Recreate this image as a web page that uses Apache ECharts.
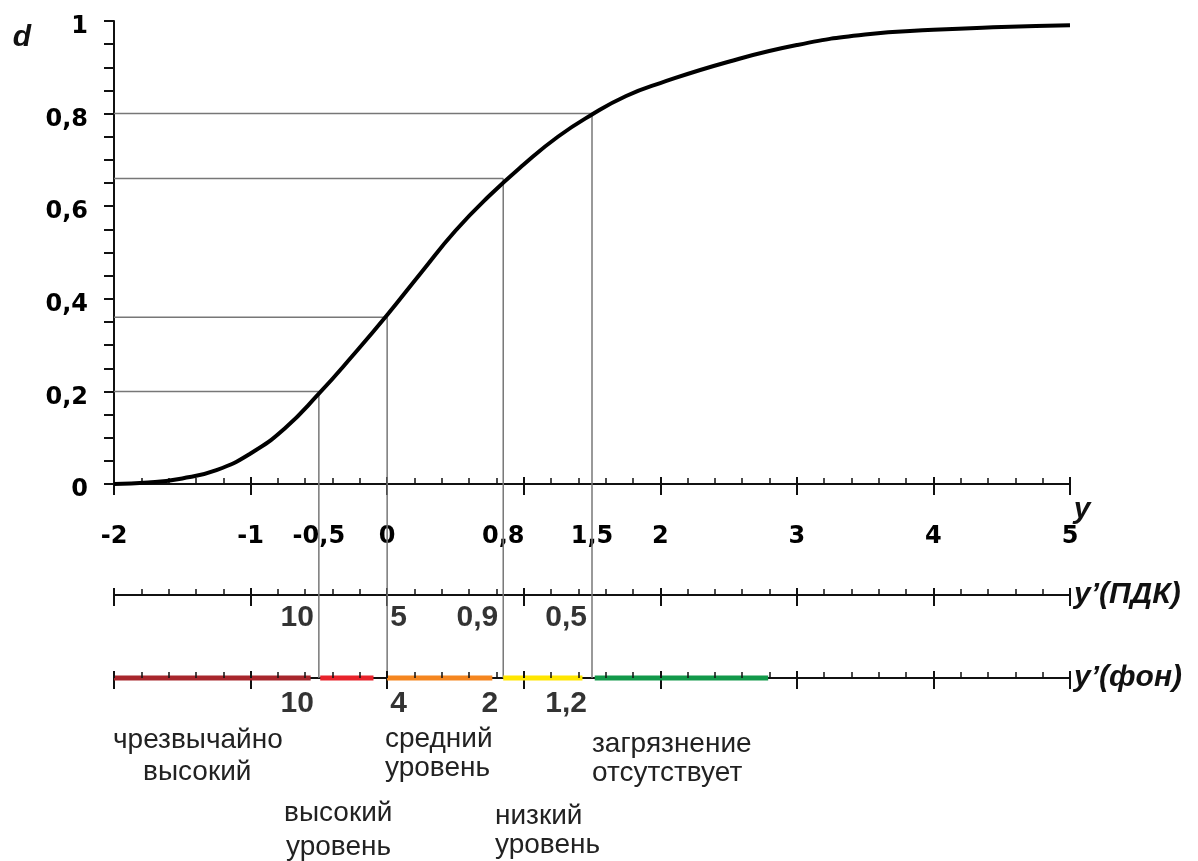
<!DOCTYPE html>
<html>
<head>
<meta charset="utf-8">
<script src="https://cdn.jsdelivr.net/npm/echarts@6/dist/echarts.min.js"></script>
<style>
html,body{margin:0;padding:0;background:#fff;}
#chart{width:1198px;height:861px;}
</style>
</head>
<body>
<div id="chart"></div>
<script>
// ---- data ----
const curveY = [-2, -1.75, -1.5, -1.25, -1, -0.75, -0.5, -0.25, 0, 0.25, 0.5, 0.75, 1, 1.25, 1.5, 1.75, 2, 2.5, 3, 3.5, 4, 4.5, 5];
const curveD = [0, 0.003, 0.012, 0.03, 0.066, 0.12, 0.195, 0.278, 0.365, 0.457, 0.547, 0.623, 0.69, 0.75, 0.798, 0.838, 0.866, 0.912, 0.948, 0.971, 0.981, 0.987, 0.991];

const refY = [-0.5, 0, 0.85, 1.5];
const refD = [0.2, 0.36, 0.66, 0.8];

const xTickPos  = [-2, -1, -0.5, 0, 0.85, 1.5, 2, 3, 4, 5];
const xTickText = ['-2', '-1', '-0,5', '0', '0,8', '1,5', '2', '3', '4', '5'];

const pdkPos  = [-0.5, 0, 0.85, 1.5];
const pdkText = ['10', '5', '0,9', '0,5'];

const fonPos  = [-0.5, 0, 0.85, 1.5];
const fonText = ['10', '4', '2', '1,2'];

const segStart = [-2, -0.49, 0, 0.85, 1.52];
const segEnd   = [-0.56, -0.1, 0.77, 1.43, 2.79];
const segColor = ['#a8262c', '#e8232b', '#f5861f', '#ffe600', '#12994a'];

const levelLines = [
  ['чрезвычайно', 'высокий'],
  ['высокий', 'уровень'],
  ['средний', 'уровень'],
  ['низкий', 'уровень'],
  ['загрязнение', 'отсутствует']
];

// ---- layout ----
const L = 114, R = 128;
const B_MIN = -194 / 463;   // tall overlay grid: 0 at main axis, bottom at the фон axis
const tickFont = {fontFamily: 'DejaVu Sans', fontWeight: 'bold', fontSize: 24, color: '#000'};
const subFont = {fontFamily: 'Liberation Sans', fontWeight: 'bold', fontSize: 30, color: '#000'};
const nameFont = {fontFamily: 'Liberation Sans', fontWeight: 'bold', fontStyle: 'italic', fontSize: 30, color: '#111'};

function outerX(grid, extra) {
  return Object.assign({
    gridIndex: grid, type: 'value', min: -2, max: 5, interval: 1, position: 'bottom',
    axisLine: {show: true, onZero: false, lineStyle: {color: '#111', width: 2}},
    axisTick: {show: true, length: 11, lineStyle: {color: '#111', width: 2}},
    minorTick: {show: false},
    axisLabel: {show: false},
    splitLine: {show: false}
  }, extra || {});
}
function innerX(grid, extra) {
  return Object.assign({
    gridIndex: grid, type: 'value', min: -2, max: 5, interval: 1, position: 'bottom',
    axisLine: {show: false, onZero: false},
    axisTick: {show: true, inside: true, length: 7, lineStyle: {color: '#111', width: 2}},
    minorTick: {show: true, splitNumber: 5, length: 6, lineStyle: {color: '#111', width: 1.5}},
    axisLabel: {show: false},
    splitLine: {show: false}
  }, extra || {});
}

const series = [];
// curve
series.push({
  type: 'line', xAxisIndex: 0, yAxisIndex: 0, clip: false,
  data: curveY.map((y, i) => [y, curveD[i]]),
  smooth: true, showSymbol: false, z: 5,
  lineStyle: {color: '#000', width: 4}
});
// reference lines
refY.forEach((y, i) => {
  series.push({
    type: 'line', xAxisIndex: 0, yAxisIndex: 0, showSymbol: false, silent: true, z: 3, clip: false,
    data: [[-2, refD[i]], [y, refD[i]]],
    lineStyle: {color: '#777', width: 1.5}
  });
  series.push({
    type: 'line', xAxisIndex: 2, yAxisIndex: 1, showSymbol: false, silent: true, z: 3, clip: false,
    data: [[y, refD[i]], [y, B_MIN]],
    lineStyle: {color: '#777', width: 1.5}
  });
});
// coloured segments on фон axis (drawn above the axis line)
segStart.forEach((s, i) => {
  series.push({
    type: 'line', xAxisIndex: 5, yAxisIndex: 3, showSymbol: false, silent: true, z: 4, clip: false,
    data: [[s, 0], [segEnd[i], 0]],
    lineStyle: {color: segColor[i], width: 5}
  });
});
// labels under ПДК and фон axes
const pdkSide = ['left', 'right', 'left', 'left'];
const fonSide = ['left', 'right', 'left', 'left'];
function labelSeries(xi, yi, pos, text, side, dy) {
  return {
    type: 'scatter', xAxisIndex: xi, yAxisIndex: yi, symbolSize: 0, silent: true, clip: false,
    data: pos.map((p, i) => ({
      value: [p, 0],
      label: Object.assign({show: true, position: side[i], distance: side[i] === 'left' ? 5 : 3,
              offset: [0, dy], formatter: text[i]}, subFont)
    })),
    label: Object.assign({show: true}, subFont)
  };
}
series.push(labelSeries(3, 2, pdkPos, pdkText, pdkSide, 23));
series.push(labelSeries(5, 3, fonPos, fonText, fonSide, 26));

// level texts
const levelPlaces = [
  [[113, 740], [143, 772]],
  [[284, 813], [286, 847]],
  [[385, 739], [385, 768]],
  [[495, 816], [495, 845]],
  [[592, 744], [592, 773]]
];
const graphics = [{
  type: 'text', x: 22, y: 38,
  style: {text: 'd', font: 'italic bold 30px "Liberation Sans"', fill: '#111', textAlign: 'center', textVerticalAlign: 'middle'}
}, {
  type: 'text', x: 1082, y: 510,
  style: {text: 'y', font: 'italic bold 30px "Liberation Sans"', fill: '#111', textAlign: 'center', textVerticalAlign: 'middle'}
}];
levelLines.forEach((lines, i) => {
  lines.forEach((t, j) => {
    graphics.push({
      type: 'text', x: levelPlaces[i][j][0], y: levelPlaces[i][j][1],
      style: {text: t, font: '28px "Liberation Sans"', fill: '#222', textAlign: 'left', textVerticalAlign: 'middle'}
    });
  });
});

const option = {
  animation: false,
  backgroundColor: '#fff',
  grid: [
    {left: L, right: R, top: 21, height: 463},
    {left: L, right: R, top: 21, height: 657},
    {left: L, right: R, top: 585, height: 10},
    {left: L, right: R, top: 668, height: 10}
  ],
  xAxis: [
    outerX(0, {
      axisLabel: Object.assign({
        show: true, margin: 41, showMinLabel: true, showMaxLabel: true,
        customValues: xTickPos,
        formatter: v => { const k = xTickPos.findIndex(p => Math.abs(p - v) < 1e-9); return k >= 0 ? xTickText[k] : ''; }
      }, tickFont)
    }),
    innerX(0),
    {gridIndex: 1, type: 'value', min: -2, max: 5, show: false},
    outerX(2, {name: 'y’(ПДК)', nameLocation: 'end', nameGap: 4,
      nameTextStyle: Object.assign({}, nameFont, {align: 'left', verticalAlign: 'middle'})}),
    innerX(2),
    outerX(3, {name: 'y’(фон)', nameLocation: 'end', nameGap: 4,
      nameTextStyle: Object.assign({}, nameFont, {align: 'left', verticalAlign: 'middle'})}),
    innerX(3, {z: 6})
  ],
  yAxis: [
    {gridIndex: 0, type: 'value', min: 0, max: 1, interval: 0.2,
     axisLine: {show: true, onZero: false, lineStyle: {color: '#111', width: 2}},
     axisTick: {show: true, length: 10, lineStyle: {color: '#111', width: 2}},
     minorTick: {show: true, splitNumber: 4, length: 10, lineStyle: {color: '#111', width: 2}},
     splitLine: {show: false},
     axisLabel: Object.assign({margin: 26, verticalAlign: 'top', lineHeight: 12,
       formatter: v => String(v).replace('.', ',')}, tickFont)},
    {gridIndex: 1, type: 'value', min: B_MIN, max: 1, show: false},
    {gridIndex: 2, type: 'value', min: 0, max: 1, show: false},
    {gridIndex: 3, type: 'value', min: 0, max: 1, show: false}
  ],
  series: series,
  graphic: graphics
};

const chart = echarts.init(document.getElementById('chart'), null, {renderer: 'canvas'});
chart.setOption(option);
</script>
</body>
</html>
